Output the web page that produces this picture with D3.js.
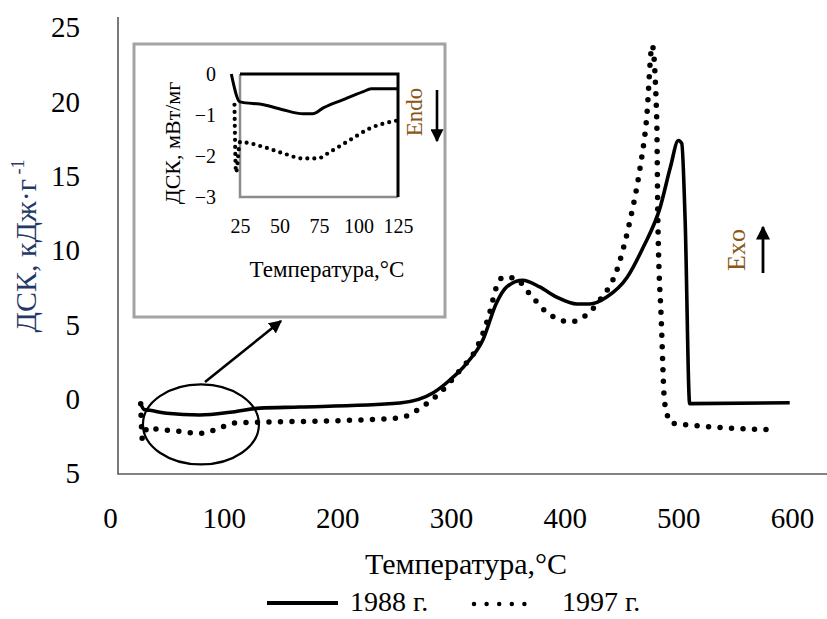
<!DOCTYPE html>
<html>
<head>
<meta charset="utf-8">
<script src="https://cdn.jsdelivr.net/npm/d3@7"></script>
<style>
  html, body { margin: 0; padding: 0; background: #fff; }
  svg { display: block; }
  text { font-family: "Liberation Serif", "Times New Roman", serif; }
</style>
</head>
<body>
<svg id="chart" width="827" height="619"></svg>
<script>
// DSC curves, main panel (temperature °C, heat flow kJ/g)
const temp1988 = [27, 30, 35, 50, 79, 108, 132, 167, 255, 284, 299, 314, 328, 340, 349, 363, 378, 393, 411, 422, 437, 455, 469, 484, 493, 500, 503, 506, 510, 598];
const dsc1988  = [-0.3, -0.7, -0.75, -0.95, -1.07, -0.86, -0.6, -0.53, -0.26, 0.41, 1.29, 2.43, 3.98, 6.47, 7.55, 8.0, 7.55, 6.87, 6.4, 6.4, 6.87, 8.2, 10.2, 12.9, 15.6, 17.4, 17.2, 12.0, -0.3, -0.24];

const temp1997 = [27, 28.5, 33, 40, 60, 79, 95, 108, 130, 200, 255, 273, 290, 308, 323, 334, 340, 346, 356, 369, 384, 405, 416, 431, 446, 457, 466, 472, 477, 481, 482, 485, 488, 494, 519, 587];
const dsc1997  = [-0.3, -2.7, -1.9, -2.0, -2.15, -2.3, -2.0, -1.62, -1.55, -1.45, -1.25, -0.6, 0.41, 1.96, 3.5, 5.8, 7.55, 8.2, 8.15, 7.1, 5.86, 5.2, 5.5, 6.67, 8.7, 11.85, 15.4, 18.8, 23.8, 18.8, 12.0, 5.3, -0.26, -1.6, -1.8, -2.07];

// Inset: low-temperature region (°C, mW/mg)
const insetTemp1988 = [19.5, 25, 40, 52, 65, 71, 78, 90, 103, 108, 125];
const insetDsc1988  = [0, -0.68, -0.75, -0.87, -0.97, -0.97, -0.82, -0.63, -0.43, -0.36, -0.36];
const insetTemp1997 = [21.5, 22.5, 25, 40, 52, 65, 74, 82, 95, 107, 125];
const insetDsc1997  = [-0.75, -2.4, -1.66, -1.78, -1.93, -2.06, -2.06, -1.9, -1.6, -1.33, -1.13];

// Tick values and their labels
const xTicks = [0, 100, 200, 300, 400, 500, 600];
const yTicks = [-5, 0, 5, 10, 15, 20, 25];
const yTickLabels = ["5", "0", "5", "10", "15", "20", "25"];
const insetXTicks = [25, 50, 75, 100, 125];
const insetYTicks = [0, -1, -2, -3];

const seriesNames = ["1988 г.", "1997 г."];

const svg = d3.select("#chart");
svg.append("rect").attr("width", 827).attr("height", 619).attr("fill", "#fff");

const defs = svg.append("defs");
defs.append("marker")
  .attr("id", "head").attr("viewBox", "0 0 10 10")
  .attr("refX", 9).attr("refY", 5)
  .attr("markerWidth", 5).attr("markerHeight", 5)
  .attr("markerUnits", "strokeWidth")
  .attr("orient", "auto")
  .append("path").attr("d", "M0,0 L10,5 L0,10 z").attr("fill", "#000");

// ---------- main panel ----------
const x = d3.scaleLinear().domain([0, 600]).range([110, 792]);
const y = d3.scaleLinear().domain([-5, 25]).range([473.5, 27.5]);

// plot-area border (left and bottom)
svg.append("path")
  .attr("d", "M118,17 L118,474 L827,474")
  .attr("fill", "none").attr("stroke", "#595959").attr("stroke-width", 1.6);

const xAxis = d3.axisBottom(x).tickValues(xTicks).tickSize(0).tickFormat(d3.format("d"));
const gx = svg.append("g").attr("transform", "translate(0,507)").call(xAxis);
gx.select(".domain").remove();
gx.selectAll("text").attr("font-size", 29).attr("fill", "#000")
  .attr("font-family", "Liberation Serif").attr("dy", "0.71em").attr("y", 0);

const yAxis = d3.axisLeft(y).tickValues(yTicks).tickSize(0)
  .tickFormat((d, i) => yTickLabels[i]);
const gy = svg.append("g").attr("transform", "translate(80,0)").call(yAxis);
gy.select(".domain").remove();
gy.selectAll("text").attr("font-size", 29).attr("fill", "#000")
  .attr("font-family", "Liberation Serif").attr("text-anchor", "end").attr("x", 0);

// axis titles
svg.append("text").attr("x", 466).attr("y", 574).attr("text-anchor", "middle")
  .attr("font-size", 30).attr("fill", "#000").text("Температура,°С");

const yt = svg.append("text").attr("transform", "translate(36,246) rotate(-90)")
  .attr("text-anchor", "middle").attr("font-size", 30).attr("fill", "#1f3a68");
yt.append("tspan").text("ДСК, кДж·г");
yt.append("tspan").attr("font-size", 18).attr("dy", -12).text(" -1");

// curves
const mainLine = d3.line().x(d => x(d[0])).y(d => y(d[1])).curve(d3.curveMonotoneX);
svg.append("path")
  .datum(d3.zip(temp1988, dsc1988))
  .attr("d", mainLine).attr("fill", "none").attr("stroke", "#000")
  .attr("stroke-width", 3.6).attr("stroke-linejoin", "round");
svg.append("path")
  .datum(d3.zip(temp1997, dsc1997))
  .attr("d", mainLine).attr("fill", "none").attr("stroke", "#000")
  .attr("stroke-width", 5.5).attr("stroke-linecap", "round")
  .attr("stroke-dasharray", "0 11.5");

// highlighted low-temperature region and pointer to the inset
svg.append("ellipse").attr("cx", x(80)).attr("cy", y(-1.7)).attr("rx", 58).attr("ry", 40)
  .attr("fill", "none").attr("stroke", "#000").attr("stroke-width", 2.2);
svg.append("line").attr("x1", 205).attr("y1", 382).attr("x2", 281).attr("y2", 321)
  .attr("stroke", "#000").attr("stroke-width", 2.6).attr("marker-end", "url(#head)");

// Exo marker
svg.append("text").attr("transform", "translate(745,250) rotate(-90)")
  .attr("text-anchor", "middle").attr("font-size", 26).attr("fill", "#8a5716").text("Exo");
svg.append("line").attr("x1", 763).attr("y1", 273).attr("x2", 763).attr("y2", 227)
  .attr("stroke", "#000").attr("stroke-width", 2.8).attr("marker-end", "url(#head)");

// legend
const lg = svg.append("g");
lg.append("line").attr("x1", 267).attr("x2", 338).attr("y1", 603).attr("y2", 603)
  .attr("stroke", "#000").attr("stroke-width", 4);
lg.append("text").attr("x", 350).attr("y", 611).attr("font-size", 28).attr("fill", "#000").text(seriesNames[0]);
lg.append("line").attr("x1", 474).attr("x2", 537).attr("y1", 604).attr("y2", 604)
  .attr("stroke", "#000").attr("stroke-width", 4.5).attr("stroke-linecap", "round")
  .attr("stroke-dasharray", "0 12.6");
lg.append("text").attr("x", 562).attr("y", 611).attr("font-size", 28).attr("fill", "#000").text(seriesNames[1]);

// ---------- inset ----------
svg.append("rect").attr("x", 134).attr("y", 44).attr("width", 311).attr("height", 273)
  .attr("fill", "#fff").attr("stroke", "#a3a3a3").attr("stroke-width", 3);

const ix = d3.scaleLinear().domain([25, 125]).range([240, 398]);
const iy = d3.scaleLinear().domain([-3, 0]).range([197, 74]);

// inset plot-area border: grey left/bottom, black top/right
svg.append("path").attr("d", `M${ix(25)},${iy(0)} L${ix(25)},${iy(-3)} L${ix(125)},${iy(-3)}`)
  .attr("fill", "none").attr("stroke", "#8c8c8c").attr("stroke-width", 2.5);
svg.append("path").attr("d", `M${ix(25)},${iy(0)} L${ix(125)},${iy(0)} L${ix(125)},${iy(-3)}`)
  .attr("fill", "none").attr("stroke", "#000").attr("stroke-width", 3);

const ixAxis = d3.axisBottom(ix).tickValues(insetXTicks).tickSize(0);
const gix = svg.append("g").attr("transform", "translate(0,219)").call(ixAxis);
gix.select(".domain").remove();
gix.selectAll("text").attr("font-size", 20).attr("fill", "#000")
  .attr("font-family", "Liberation Serif").attr("y", 0).attr("dy", "0.71em");

const iyAxis = d3.axisLeft(iy).tickValues(insetYTicks).tickSize(0).tickFormat(d3.format("d"));
const giy = svg.append("g").attr("transform", "translate(216,0)").call(iyAxis);
giy.select(".domain").remove();
giy.selectAll("text").attr("font-size", 20).attr("fill", "#000")
  .attr("font-family", "Liberation Serif").attr("x", 0);

svg.append("text").attr("x", 327).attr("y", 277).attr("text-anchor", "middle")
  .attr("font-size", 23).attr("fill", "#000").text("Температура,°С");
svg.append("text").attr("transform", "translate(180,143) rotate(-90)")
  .attr("text-anchor", "middle").attr("font-size", 22).attr("fill", "#000").text("ДСК, мВт/мг");

const insetLine = d3.line().x(d => ix(d[0])).y(d => iy(d[1])).curve(d3.curveMonotoneX);
svg.append("path")
  .datum(d3.zip(insetTemp1988, insetDsc1988))
  .attr("d", insetLine).attr("fill", "none").attr("stroke", "#000")
  .attr("stroke-width", 3).attr("stroke-linejoin", "round");
svg.append("path")
  .datum(d3.zip(insetTemp1997, insetDsc1997))
  .attr("d", insetLine).attr("fill", "none").attr("stroke", "#000")
  .attr("stroke-width", 4.2).attr("stroke-linecap", "round")
  .attr("stroke-dasharray", "0 7");

// Endo marker
svg.append("text").attr("transform", "translate(422,112) rotate(-90)")
  .attr("text-anchor", "middle").attr("font-size", 23).attr("fill", "#8a5716").text("Endo");
svg.append("line").attr("x1", 437).attr("y1", 90).attr("x2", 437).attr("y2", 141)
  .attr("stroke", "#000").attr("stroke-width", 2.6).attr("marker-end", "url(#head)");
</script>
</body>
</html>
